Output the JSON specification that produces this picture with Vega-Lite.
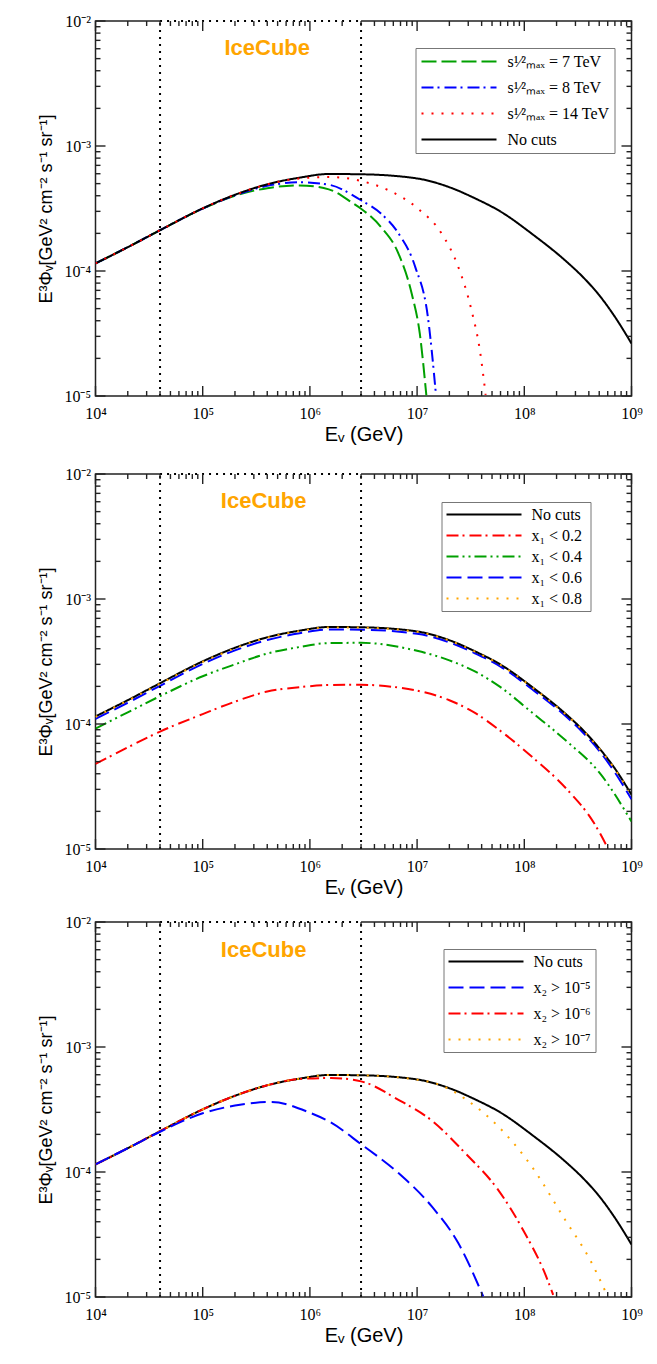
{
  "$schema": "https://vega.github.io/schema/vega-lite/v6.json",
  "padding": {"left": 36.5, "top": 12, "right": 5, "bottom": 5},
  "spacing": 20,
  "config": {
    "view": {"stroke": "#222", "strokeWidth": 1.5},
    "axis": {"grid": false, "domain": false, "ticks": false, "labelFlush": false, "labelFont": "Liberation Serif", "labelFontSize": 16, "labelColor": "black", "titleFont": "Liberation Sans", "titleFontWeight": "normal", "titleColor": "black"}
  },
  "datasets": {
    "p1": [
      {"E": 10000, "F": 0.000115, "s": "g"}, {"E": 20000, "F": 0.000155, "s": "g"}, {"E": 40000, "F": 0.000212, "s": "g"}, {"E": 100000, "F": 0.000315, "s": "g"}, {"E": 200000, "F": 0.0004, "s": "g"}, {"E": 400000, "F": 0.00046, "s": "g"}, {"E": 800000, "F": 0.000484, "s": "g"}, {"E": 1500000, "F": 0.00045, "s": "g"}, {"E": 2500000, "F": 0.00035, "s": "g"}, {"E": 3000000, "F": 0.000315, "s": "g"}, {"E": 4600000, "F": 0.000225, "s": "g"}, {"E": 6700000, "F": 0.000138, "s": "g"}, {"E": 8900000, "F": 0.000066, "s": "g"}, {"E": 10600000, "F": 0.0000315, "s": "g"}, {"E": 12200000, "F": 0.0000101, "s": "g"},
      {"E": 10000, "F": 0.000115, "s": "b"}, {"E": 20000, "F": 0.000155, "s": "b"}, {"E": 40000, "F": 0.000212, "s": "b"}, {"E": 100000, "F": 0.000316, "s": "b"}, {"E": 200000, "F": 0.000403, "s": "b"}, {"E": 400000, "F": 0.00048, "s": "b"}, {"E": 800000, "F": 0.000513, "s": "b"}, {"E": 1500000, "F": 0.00049, "s": "b"}, {"E": 3000000, "F": 0.000368, "s": "b"}, {"E": 4600000, "F": 0.000288, "s": "b"}, {"E": 6700000, "F": 0.0002, "s": "b"}, {"E": 9600000, "F": 0.000108, "s": "b"}, {"E": 12600000, "F": 0.000043, "s": "b"}, {"E": 15000000, "F": 0.0000102, "s": "b"},
      {"E": 10000, "F": 0.000115, "s": "k"}, {"E": 20000, "F": 0.000155, "s": "k"}, {"E": 40000, "F": 0.000212, "s": "k"}, {"E": 100000, "F": 0.000317, "s": "k"}, {"E": 200000, "F": 0.000407, "s": "k"}, {"E": 400000, "F": 0.000494, "s": "k"}, {"E": 800000, "F": 0.000558, "s": "k"}, {"E": 1500000, "F": 0.000597, "s": "k"}, {"E": 3000000, "F": 0.000594, "s": "k"}, {"E": 10000000, "F": 0.00055, "s": "k"}, {"E": 20000000, "F": 0.000468, "s": "k"}, {"E": 35000000, "F": 0.00038, "s": "k"}, {"E": 60000000, "F": 0.000299, "s": "k"}, {"E": 120000000, "F": 0.000196, "s": "k"}, {"E": 250000000, "F": 0.000118, "s": "k"}, {"E": 350000000, "F": 0.00009, "s": "k"}, {"E": 500000000, "F": 0.000064, "s": "k"}, {"E": 700000000, "F": 0.000043, "s": "k"}, {"E": 1000000000, "F": 0.0000263, "s": "k"},
      {"E": 10000, "F": 0.000115, "s": "r"}, {"E": 20000, "F": 0.000155, "s": "r"}, {"E": 40000, "F": 0.000212, "s": "r"}, {"E": 100000, "F": 0.000317, "s": "r"}, {"E": 200000, "F": 0.000407, "s": "r"}, {"E": 400000, "F": 0.000493, "s": "r"}, {"E": 800000, "F": 0.00055, "s": "r"}, {"E": 1500000, "F": 0.000565, "s": "r"}, {"E": 3000000, "F": 0.000525, "s": "r"}, {"E": 5400000, "F": 0.000443, "s": "r"}, {"E": 10200000, "F": 0.000315, "s": "r"}, {"E": 16900000, "F": 0.0002, "s": "r"}, {"E": 24200000, "F": 0.000108, "s": "r"}, {"E": 32200000, "F": 0.0000485, "s": "r"}, {"E": 38500000, "F": 0.0000232, "s": "r"}, {"E": 43600000, "F": 0.0000102, "s": "r"}
    ],
    "p2": [
      {"E": 10000, "F": 0.000048, "s": "r"}, {"E": 20000, "F": 0.000065, "s": "r"}, {"E": 40000, "F": 0.000087, "s": "r"}, {"E": 100000, "F": 0.00012, "s": "r"}, {"E": 200000, "F": 0.000151, "s": "r"}, {"E": 400000, "F": 0.000182, "s": "r"}, {"E": 800000, "F": 0.000197, "s": "r"}, {"E": 1500000, "F": 0.000205, "s": "r"}, {"E": 3000000, "F": 0.000206, "s": "r"}, {"E": 6000000, "F": 0.000198, "s": "r"}, {"E": 10000000, "F": 0.000185, "s": "r"}, {"E": 20000000, "F": 0.000155, "s": "r"}, {"E": 35000000, "F": 0.000122, "s": "r"}, {"E": 60000000, "F": 0.000088, "s": "r"}, {"E": 120000000, "F": 0.000054, "s": "r"}, {"E": 250000000, "F": 0.00003, "s": "r"}, {"E": 450000000, "F": 0.000016, "s": "r"}, {"E": 600000000, "F": 0.0000102, "s": "r"},
      {"E": 10000, "F": 0.000092, "s": "g"}, {"E": 20000, "F": 0.000124, "s": "g"}, {"E": 40000, "F": 0.000167, "s": "g"}, {"E": 100000, "F": 0.000241, "s": "g"}, {"E": 200000, "F": 0.0003, "s": "g"}, {"E": 400000, "F": 0.000366, "s": "g"}, {"E": 800000, "F": 0.000413, "s": "g"}, {"E": 1500000, "F": 0.000444, "s": "g"}, {"E": 3000000, "F": 0.000446, "s": "g"}, {"E": 10000000, "F": 0.000385, "s": "g"}, {"E": 20000000, "F": 0.000323, "s": "g"}, {"E": 35000000, "F": 0.000262, "s": "g"}, {"E": 60000000, "F": 0.000197, "s": "g"}, {"E": 120000000, "F": 0.000122, "s": "g"}, {"E": 250000000, "F": 0.0000725, "s": "g"}, {"E": 500000000, "F": 0.000041, "s": "g"}, {"E": 1000000000, "F": 0.0000166, "s": "g"},
      {"E": 10000, "F": 0.00011, "s": "b"}, {"E": 20000, "F": 0.000148, "s": "b"}, {"E": 40000, "F": 0.000202, "s": "b"}, {"E": 100000, "F": 0.000302, "s": "b"}, {"E": 200000, "F": 0.000388, "s": "b"}, {"E": 400000, "F": 0.00047, "s": "b"}, {"E": 800000, "F": 0.000532, "s": "b"}, {"E": 1500000, "F": 0.00057, "s": "b"}, {"E": 3000000, "F": 0.000568, "s": "b"}, {"E": 10000000, "F": 0.000527, "s": "b"}, {"E": 20000000, "F": 0.00045, "s": "b"}, {"E": 35000000, "F": 0.000366, "s": "b"}, {"E": 60000000, "F": 0.000288, "s": "b"}, {"E": 120000000, "F": 0.000188, "s": "b"}, {"E": 250000000, "F": 0.000113, "s": "b"}, {"E": 350000000, "F": 0.000086, "s": "b"}, {"E": 500000000, "F": 0.000061, "s": "b"}, {"E": 700000000, "F": 0.000041, "s": "b"}, {"E": 1000000000, "F": 0.000025, "s": "b"},
      {"E": 10000, "F": 0.000115, "s": "k"}, {"E": 20000, "F": 0.000155, "s": "k"}, {"E": 40000, "F": 0.000212, "s": "k"}, {"E": 100000, "F": 0.000317, "s": "k"}, {"E": 200000, "F": 0.000407, "s": "k"}, {"E": 400000, "F": 0.000494, "s": "k"}, {"E": 800000, "F": 0.000558, "s": "k"}, {"E": 1500000, "F": 0.000597, "s": "k"}, {"E": 3000000, "F": 0.000594, "s": "k"}, {"E": 10000000, "F": 0.00055, "s": "k"}, {"E": 20000000, "F": 0.000468, "s": "k"}, {"E": 35000000, "F": 0.00038, "s": "k"}, {"E": 60000000, "F": 0.000299, "s": "k"}, {"E": 120000000, "F": 0.000196, "s": "k"}, {"E": 250000000, "F": 0.000118, "s": "k"}, {"E": 350000000, "F": 0.00009, "s": "k"}, {"E": 500000000, "F": 0.000064, "s": "k"}, {"E": 700000000, "F": 0.000044, "s": "k"}, {"E": 1000000000, "F": 0.0000272, "s": "k"},
      {"E": 10000, "F": 0.000114, "s": "o"}, {"E": 20000, "F": 0.000154, "s": "o"}, {"E": 40000, "F": 0.00021, "s": "o"}, {"E": 100000, "F": 0.000314, "s": "o"}, {"E": 200000, "F": 0.000403, "s": "o"}, {"E": 400000, "F": 0.00049, "s": "o"}, {"E": 800000, "F": 0.000553, "s": "o"}, {"E": 1500000, "F": 0.000592, "s": "o"}, {"E": 3000000, "F": 0.00059, "s": "o"}, {"E": 10000000, "F": 0.000546, "s": "o"}, {"E": 20000000, "F": 0.000465, "s": "o"}, {"E": 35000000, "F": 0.000378, "s": "o"}, {"E": 60000000, "F": 0.000297, "s": "o"}, {"E": 120000000, "F": 0.000195, "s": "o"}, {"E": 250000000, "F": 0.000117, "s": "o"}, {"E": 350000000, "F": 0.0000895, "s": "o"}, {"E": 500000000, "F": 0.0000635, "s": "o"}, {"E": 700000000, "F": 0.0000435, "s": "o"}, {"E": 1000000000, "F": 0.000027, "s": "o"}
    ],
    "p3": [
      {"E": 10000, "F": 0.000115, "s": "k"}, {"E": 20000, "F": 0.000155, "s": "k"}, {"E": 40000, "F": 0.000212, "s": "k"}, {"E": 100000, "F": 0.000317, "s": "k"}, {"E": 200000, "F": 0.000407, "s": "k"}, {"E": 400000, "F": 0.000494, "s": "k"}, {"E": 800000, "F": 0.000558, "s": "k"}, {"E": 1500000, "F": 0.000597, "s": "k"}, {"E": 3000000, "F": 0.000594, "s": "k"}, {"E": 10000000, "F": 0.00055, "s": "k"}, {"E": 20000000, "F": 0.000468, "s": "k"}, {"E": 35000000, "F": 0.00038, "s": "k"}, {"E": 60000000, "F": 0.000299, "s": "k"}, {"E": 120000000, "F": 0.000196, "s": "k"}, {"E": 250000000, "F": 0.000118, "s": "k"}, {"E": 350000000, "F": 0.00009, "s": "k"}, {"E": 500000000, "F": 0.000064, "s": "k"}, {"E": 700000000, "F": 0.000043, "s": "k"}, {"E": 1000000000, "F": 0.0000263, "s": "k"},
      {"E": 10000, "F": 0.000115, "s": "r"}, {"E": 20000, "F": 0.000155, "s": "r"}, {"E": 40000, "F": 0.000212, "s": "r"}, {"E": 100000, "F": 0.000317, "s": "r"}, {"E": 200000, "F": 0.000407, "s": "r"}, {"E": 400000, "F": 0.000494, "s": "r"}, {"E": 800000, "F": 0.000555, "s": "r"}, {"E": 1580000, "F": 0.000565, "s": "r"}, {"E": 3000000, "F": 0.000531, "s": "r"}, {"E": 6700000, "F": 0.000378, "s": "r"}, {"E": 13700000, "F": 0.000258, "s": "r"}, {"E": 28000000, "F": 0.000142, "s": "r"}, {"E": 57000000, "F": 0.000072, "s": "r"}, {"E": 101000000, "F": 0.0000325, "s": "r"}, {"E": 155000000, "F": 0.0000156, "s": "r"}, {"E": 186000000, "F": 0.0000104, "s": "r"},
      {"E": 10000, "F": 0.000115, "s": "o"}, {"E": 20000, "F": 0.000155, "s": "o"}, {"E": 40000, "F": 0.000212, "s": "o"}, {"E": 100000, "F": 0.000317, "s": "o"}, {"E": 200000, "F": 0.000407, "s": "o"}, {"E": 400000, "F": 0.000494, "s": "o"}, {"E": 800000, "F": 0.000558, "s": "o"}, {"E": 1500000, "F": 0.000597, "s": "o"}, {"E": 3000000, "F": 0.000594, "s": "o"}, {"E": 10000000, "F": 0.000548, "s": "o"}, {"E": 15000000, "F": 0.00051, "s": "o"}, {"E": 20000000, "F": 0.00046, "s": "o"}, {"E": 28000000, "F": 0.000385, "s": "o"}, {"E": 57000000, "F": 0.000232, "s": "o"}, {"E": 117000000, "F": 0.000111, "s": "o"}, {"E": 240000000, "F": 0.0000415, "s": "o"}, {"E": 410000000, "F": 0.0000199, "s": "o"}, {"E": 590000000, "F": 0.0000104, "s": "o"},
      {"E": 10000, "F": 0.000115, "s": "b"}, {"E": 20000, "F": 0.000155, "s": "b"}, {"E": 40000, "F": 0.00021, "s": "b"}, {"E": 100000, "F": 0.000295, "s": "b"}, {"E": 200000, "F": 0.00034, "s": "b"}, {"E": 440000, "F": 0.000363, "s": "b"}, {"E": 1000000, "F": 0.000298, "s": "b"}, {"E": 1580000, "F": 0.000248, "s": "b"}, {"E": 3000000, "F": 0.000167, "s": "b"}, {"E": 6700000, "F": 0.000098, "s": "b"}, {"E": 13700000, "F": 0.000053, "s": "b"}, {"E": 24200000, "F": 0.000027, "s": "b"}, {"E": 41400000, "F": 0.0000101, "s": "b"}
    ],
    "marks": [{"E": 40000}, {"E": 3000000}],
    "xmaj": [{"E": 10000}, {"E": 100000}, {"E": 1000000}, {"E": 10000000}, {"E": 100000000}, {"E": 1000000000}],
    "xmin": [{"E": 20000}, {"E": 30000}, {"E": 40000}, {"E": 50000}, {"E": 60000}, {"E": 70000}, {"E": 80000}, {"E": 90000}, {"E": 200000}, {"E": 300000}, {"E": 400000}, {"E": 500000}, {"E": 600000}, {"E": 700000}, {"E": 800000}, {"E": 900000}, {"E": 2000000}, {"E": 3000000}, {"E": 4000000}, {"E": 5000000}, {"E": 6000000}, {"E": 7000000}, {"E": 8000000}, {"E": 9000000}, {"E": 20000000}, {"E": 30000000}, {"E": 40000000}, {"E": 50000000}, {"E": 60000000}, {"E": 70000000}, {"E": 80000000}, {"E": 90000000}, {"E": 200000000}, {"E": 300000000}, {"E": 400000000}, {"E": 500000000}, {"E": 600000000}, {"E": 700000000}, {"E": 800000000}, {"E": 900000000}],
    "ymaj": [{"F": 0.00001}, {"F": 0.0001}, {"F": 0.001}, {"F": 0.01}],
    "ymin": [{"F": 0.00002}, {"F": 0.00003}, {"F": 0.00004}, {"F": 0.00005}, {"F": 0.00006}, {"F": 0.00007}, {"F": 0.00008}, {"F": 0.00009}, {"F": 0.0002}, {"F": 0.0003}, {"F": 0.0004}, {"F": 0.0005}, {"F": 0.0006}, {"F": 0.0007}, {"F": 0.0008}, {"F": 0.0009}, {"F": 0.002}, {"F": 0.003}, {"F": 0.004}, {"F": 0.005}, {"F": 0.006}, {"F": 0.007}, {"F": 0.008}, {"F": 0.009}]
  },
  "resolve": {"scale": {"color": "independent", "strokeDash": "independent"}, "legend": {"color": "independent", "strokeDash": "independent"}},
  "vconcat": [
    {
      "width": 536, "height": 375,
      "resolve": {"axis": {"x": "independent", "y": "independent"}},
      "layer": [
        {
          "data": {"name": "p1"},
          "mark": {"type": "line", "strokeWidth": 2, "clip": true, "interpolate": "monotone"},
          "encoding": {
            "x": {"field": "E", "type": "quantitative", "scale": {"type": "log", "domain": [10000, 1000000000]},
              "axis": {"orient": "bottom", "values": [10000, 100000, 1000000, 10000000, 100000000, 1000000000], "labelPadding": 9, "labelExpr": "'10' + ['⁰','¹','²','³','⁴','⁵','⁶','⁷','⁸','⁹'][round(log(datum.value)/LN10)]", "title": "Eᵥ (GeV)", "titleFontSize": 20, "titlePadding": 3}},
            "y": {"field": "F", "type": "quantitative", "scale": {"type": "log", "domain": [0.00001, 0.01]},
              "axis": {"orient": "left", "values": [0.00001, 0.0001, 0.001, 0.01], "labelPadding": 5, "labelExpr": "'10⁻' + ['⁰','¹','²','³','⁴','⁵','⁶'][round(-log(datum.value)/LN10)]", "title": "E³Φᵥ[GeV² cm⁻² s⁻¹ sr⁻¹]", "titleFontSize": 18, "titlePadding": 8}},
            "color": {"field": "s", "type": "nominal", "sort": null,
              "scale": {"domain": ["g", "b", "r", "k"], "range": ["#00a000", "#0000ff", "#ff0000", "#000000"]},
              "legend": {"orient": "none", "legendX": 320, "legendY": 27, "title": null, "strokeColor": "#777", "fillColor": "white", "padding": 5, "symbolType": "M-1,0H9", "symbolSize": 225, "symbolStrokeWidth": 2, "labelFont": "Liberation Serif", "labelFontSize": 16, "labelColor": "black", "rowPadding": 9, "labelOffset": 70,
                "labelExpr": "datum.value == 'g' ? 's¹⁄²ₘₐₓ = 7 TeV' : datum.value == 'b' ? 's¹⁄²ₘₐₓ = 8 TeV' : datum.value == 'r' ? 's¹⁄²ₘₐₓ = 14 TeV' : 'No cuts'"}},
            "strokeDash": {"field": "s", "type": "nominal", "sort": null,
              "scale": {"domain": ["g", "b", "r", "k"], "range": [[15, 5], [12, 4, 2, 5], [2, 8], [1, 0]]},
              "legend": {"orient": "none", "legendX": 320, "legendY": 27, "title": null, "strokeColor": "#777", "fillColor": "white", "padding": 5, "symbolType": "M-1,0H9", "symbolSize": 225, "symbolStrokeWidth": 2, "labelFont": "Liberation Serif", "labelFontSize": 16, "labelColor": "black", "rowPadding": 9, "labelOffset": 70,
                "labelExpr": "datum.value == 'g' ? 's¹⁄²ₘₐₓ = 7 TeV' : datum.value == 'b' ? 's¹⁄²ₘₐₓ = 8 TeV' : datum.value == 'r' ? 's¹⁄²ₘₐₓ = 14 TeV' : 'No cuts'"}}
          }
        },
        {"data": {"name": "marks"}, "mark": {"type": "rule", "color": "black", "strokeWidth": 2, "strokeDash": [2, 5]},
          "encoding": {"x": {"field": "E", "type": "quantitative", "axis": null}, "y": {"datum": 0.00001, "type": "quantitative", "axis": null}, "y2": {"datum": 0.01}}},
        {"data": {"values": [{}]}, "mark": {"type": "rule", "color": "white", "strokeWidth": 2.5},
          "encoding": {"x": {"datum": 40000, "type": "quantitative", "axis": null}, "x2": {"datum": 3000000}, "y": {"datum": 0.01, "type": "quantitative", "axis": null}}},
        {"data": {"values": [{}]}, "mark": {"type": "rule", "color": "black", "strokeWidth": 2, "strokeDash": [2, 5]},
          "encoding": {"x": {"datum": 40000, "type": "quantitative", "axis": null}, "x2": {"datum": 3000000}, "y": {"datum": 0.01, "type": "quantitative", "axis": null}}},
        {"data": {"name": "xmaj"}, "mark": {"type": "rule", "color": "#222", "strokeWidth": 1.4},
          "encoding": {"x": {"field": "E", "type": "quantitative", "axis": null}, "y": {"datum": 0.00001, "type": "quantitative", "axis": null}, "y2": {"datum": 0.000012023}}},
        {"data": {"name": "xmaj"}, "mark": {"type": "rule", "color": "#222", "strokeWidth": 1.4},
          "encoding": {"x": {"field": "E", "type": "quantitative", "axis": null}, "y": {"datum": 0.01, "type": "quantitative", "axis": null}, "y2": {"datum": 0.0083176}}},
        {"data": {"name": "xmin"}, "mark": {"type": "rule", "color": "#222", "strokeWidth": 1.4},
          "encoding": {"x": {"field": "E", "type": "quantitative", "axis": null}, "y": {"datum": 0.00001, "type": "quantitative", "axis": null}, "y2": {"datum": 0.000010965}}},
        {"data": {"name": "xmin"}, "mark": {"type": "rule", "color": "#222", "strokeWidth": 1.4},
          "encoding": {"x": {"field": "E", "type": "quantitative", "axis": null}, "y": {"datum": 0.01, "type": "quantitative", "axis": null}, "y2": {"datum": 0.0091201}}},
        {"data": {"name": "ymaj"}, "mark": {"type": "rule", "color": "#222", "strokeWidth": 1.4},
          "encoding": {"y": {"field": "F", "type": "quantitative", "axis": null}, "x": {"datum": 10000, "type": "quantitative", "axis": null}, "x2": {"datum": 12399}}},
        {"data": {"name": "ymaj"}, "mark": {"type": "rule", "color": "#222", "strokeWidth": 1.4},
          "encoding": {"y": {"field": "F", "type": "quantitative", "axis": null}, "x": {"datum": 1000000000, "type": "quantitative", "axis": null}, "x2": {"datum": 806500000}}},
        {"data": {"name": "ymin"}, "mark": {"type": "rule", "color": "#222", "strokeWidth": 1.4},
          "encoding": {"y": {"field": "F", "type": "quantitative", "axis": null}, "x": {"datum": 10000, "type": "quantitative", "axis": null}, "x2": {"datum": 11133}}},
        {"data": {"name": "ymin"}, "mark": {"type": "rule", "color": "#222", "strokeWidth": 1.4},
          "encoding": {"y": {"field": "F", "type": "quantitative", "axis": null}, "x": {"datum": 1000000000, "type": "quantitative", "axis": null}, "x2": {"datum": 898200000}}},
        {"data": {"values": [{}]}, "mark": {"type": "text", "text": "IceCube", "font": "Liberation Sans", "fontWeight": "bold", "fontSize": 22, "color": "#ffa500", "align": "center", "baseline": "alphabetic"},
          "encoding": {"x": {"datum": 400000, "type": "quantitative", "axis": null}, "y": {"datum": 0.00539, "type": "quantitative", "axis": null}}}
      ]
    },
    {
      "spacing": 15,
      "resolve": {"scale": {"color": "independent", "strokeDash": "independent"}, "legend": {"color": "independent", "strokeDash": "independent"}},
      "vconcat": [
        {
          "width": 536, "height": 375,
          "resolve": {"axis": {"x": "independent", "y": "independent"}},
          "layer": [
            {
              "data": {"name": "p2"},
              "mark": {"type": "line", "strokeWidth": 2, "clip": true, "interpolate": "monotone"},
              "encoding": {
                "x": {"field": "E", "type": "quantitative", "scale": {"type": "log", "domain": [10000, 1000000000]},
                  "axis": {"orient": "bottom", "values": [10000, 100000, 1000000, 10000000, 100000000, 1000000000], "labelPadding": 9, "labelExpr": "'10' + ['⁰','¹','²','³','⁴','⁵','⁶','⁷','⁸','⁹'][round(log(datum.value)/LN10)]", "title": "Eᵥ (GeV)", "titleFontSize": 20, "titlePadding": 3}},
                "y": {"field": "F", "type": "quantitative", "scale": {"type": "log", "domain": [0.00001, 0.01]},
                  "axis": {"orient": "left", "values": [0.00001, 0.0001, 0.001, 0.01], "labelPadding": 5, "labelExpr": "'10⁻' + ['⁰','¹','²','³','⁴','⁵','⁶'][round(-log(datum.value)/LN10)]", "title": "E³Φᵥ[GeV² cm⁻² s⁻¹ sr⁻¹]", "titleFontSize": 18, "titlePadding": 8}},
                "color": {"field": "s", "type": "nominal", "sort": null,
                  "scale": {"domain": ["k", "r", "g", "b", "o"], "range": ["#000000", "#ff0000", "#00a000", "#0000ff", "#ffa500"]},
                  "legend": {"orient": "none", "legendX": 346, "legendY": 28, "title": null, "strokeColor": "#777", "fillColor": "white", "padding": 4, "symbolType": "M-1,0H9", "symbolSize": 225, "symbolStrokeWidth": 2, "labelFont": "Liberation Serif", "labelFontSize": 16, "labelColor": "black", "rowPadding": 4, "labelOffset": 69,
                    "labelExpr": "datum.value == 'k' ? 'No cuts' : datum.value == 'r' ? 'x₁ < 0.2' : datum.value == 'g' ? 'x₁  < 0.4' : datum.value == 'b' ? 'x₁ < 0.6' : 'x₁ < 0.8'"}},
                "strokeDash": {"field": "s", "type": "nominal", "sort": null,
                  "scale": {"domain": ["k", "r", "g", "b", "o"], "range": [[1, 0], [12, 4, 2, 5], [12, 4, 2, 4, 2, 4], [15, 6], [2, 8]]},
                  "legend": {"orient": "none", "legendX": 346, "legendY": 28, "title": null, "strokeColor": "#777", "fillColor": "white", "padding": 4, "symbolType": "M-1,0H9", "symbolSize": 225, "symbolStrokeWidth": 2, "labelFont": "Liberation Serif", "labelFontSize": 16, "labelColor": "black", "rowPadding": 4, "labelOffset": 69,
                    "labelExpr": "datum.value == 'k' ? 'No cuts' : datum.value == 'r' ? 'x₁ < 0.2' : datum.value == 'g' ? 'x₁  < 0.4' : datum.value == 'b' ? 'x₁ < 0.6' : 'x₁ < 0.8'"}}
              }
            },
            {"data": {"name": "marks"}, "mark": {"type": "rule", "color": "black", "strokeWidth": 2, "strokeDash": [2, 5]},
              "encoding": {"x": {"field": "E", "type": "quantitative", "axis": null}, "y": {"datum": 0.00001, "type": "quantitative", "axis": null}, "y2": {"datum": 0.01}}},
            {"data": {"values": [{}]}, "mark": {"type": "rule", "color": "white", "strokeWidth": 2.5},
              "encoding": {"x": {"datum": 40000, "type": "quantitative", "axis": null}, "x2": {"datum": 3000000}, "y": {"datum": 0.01, "type": "quantitative", "axis": null}}},
            {"data": {"values": [{}]}, "mark": {"type": "rule", "color": "black", "strokeWidth": 2, "strokeDash": [2, 5]},
              "encoding": {"x": {"datum": 40000, "type": "quantitative", "axis": null}, "x2": {"datum": 3000000}, "y": {"datum": 0.01, "type": "quantitative", "axis": null}}},
            {"data": {"name": "xmaj"}, "mark": {"type": "rule", "color": "#222", "strokeWidth": 1.4},
              "encoding": {"x": {"field": "E", "type": "quantitative", "axis": null}, "y": {"datum": 0.00001, "type": "quantitative", "axis": null}, "y2": {"datum": 0.000012023}}},
            {"data": {"name": "xmaj"}, "mark": {"type": "rule", "color": "#222", "strokeWidth": 1.4},
              "encoding": {"x": {"field": "E", "type": "quantitative", "axis": null}, "y": {"datum": 0.01, "type": "quantitative", "axis": null}, "y2": {"datum": 0.0083176}}},
            {"data": {"name": "xmin"}, "mark": {"type": "rule", "color": "#222", "strokeWidth": 1.4},
              "encoding": {"x": {"field": "E", "type": "quantitative", "axis": null}, "y": {"datum": 0.00001, "type": "quantitative", "axis": null}, "y2": {"datum": 0.000010965}}},
            {"data": {"name": "xmin"}, "mark": {"type": "rule", "color": "#222", "strokeWidth": 1.4},
              "encoding": {"x": {"field": "E", "type": "quantitative", "axis": null}, "y": {"datum": 0.01, "type": "quantitative", "axis": null}, "y2": {"datum": 0.0091201}}},
            {"data": {"name": "ymaj"}, "mark": {"type": "rule", "color": "#222", "strokeWidth": 1.4},
              "encoding": {"y": {"field": "F", "type": "quantitative", "axis": null}, "x": {"datum": 10000, "type": "quantitative", "axis": null}, "x2": {"datum": 12399}}},
            {"data": {"name": "ymaj"}, "mark": {"type": "rule", "color": "#222", "strokeWidth": 1.4},
              "encoding": {"y": {"field": "F", "type": "quantitative", "axis": null}, "x": {"datum": 1000000000, "type": "quantitative", "axis": null}, "x2": {"datum": 806500000}}},
            {"data": {"name": "ymin"}, "mark": {"type": "rule", "color": "#222", "strokeWidth": 1.4},
              "encoding": {"y": {"field": "F", "type": "quantitative", "axis": null}, "x": {"datum": 10000, "type": "quantitative", "axis": null}, "x2": {"datum": 11133}}},
            {"data": {"name": "ymin"}, "mark": {"type": "rule", "color": "#222", "strokeWidth": 1.4},
              "encoding": {"y": {"field": "F", "type": "quantitative", "axis": null}, "x": {"datum": 1000000000, "type": "quantitative", "axis": null}, "x2": {"datum": 898200000}}},
            {"data": {"values": [{}]}, "mark": {"type": "text", "text": "IceCube", "font": "Liberation Sans", "fontWeight": "bold", "fontSize": 22, "color": "#ffa500", "align": "center", "baseline": "alphabetic"},
              "encoding": {"x": {"datum": 370000, "type": "quantitative", "axis": null}, "y": {"datum": 0.0053, "type": "quantitative", "axis": null}}}
          ]
        },
        {
          "width": 536, "height": 375,
          "resolve": {"axis": {"x": "independent", "y": "independent"}},
          "layer": [
            {
              "data": {"name": "p3"},
              "mark": {"type": "line", "strokeWidth": 2, "clip": true, "interpolate": "monotone"},
              "encoding": {
                "x": {"field": "E", "type": "quantitative", "scale": {"type": "log", "domain": [10000, 1000000000]},
                  "axis": {"orient": "bottom", "values": [10000, 100000, 1000000, 10000000, 100000000, 1000000000], "labelPadding": 9, "labelExpr": "'10' + ['⁰','¹','²','³','⁴','⁵','⁶','⁷','⁸','⁹'][round(log(datum.value)/LN10)]", "title": "Eᵥ (GeV)", "titleFontSize": 20, "titlePadding": 3}},
                "y": {"field": "F", "type": "quantitative", "scale": {"type": "log", "domain": [0.00001, 0.01]},
                  "axis": {"orient": "left", "values": [0.00001, 0.0001, 0.001, 0.01], "labelPadding": 5, "labelExpr": "'10⁻' + ['⁰','¹','²','³','⁴','⁵','⁶'][round(-log(datum.value)/LN10)]", "title": "E³Φᵥ[GeV² cm⁻² s⁻¹ sr⁻¹]", "titleFontSize": 18, "titlePadding": 8}},
                "color": {"field": "s", "type": "nominal", "sort": null,
                  "scale": {"domain": ["k", "b", "r", "o"], "range": ["#000000", "#0000ff", "#ff0000", "#ffa500"]},
                  "legend": {"orient": "none", "legendX": 348, "legendY": 27, "title": null, "strokeColor": "#777", "fillColor": "white", "padding": 4, "symbolType": "M-1,0H9", "symbolSize": 225, "symbolStrokeWidth": 2, "labelFont": "Liberation Serif", "labelFontSize": 16, "labelColor": "black", "rowPadding": 9, "labelOffset": 69,
                    "labelExpr": "datum.value == 'k' ? 'No cuts' : datum.value == 'b' ? 'x₂ > 10⁻⁵' : datum.value == 'r' ? 'x₂ > 10⁻⁶' : 'x₂ > 10⁻⁷'"}},
                "strokeDash": {"field": "s", "type": "nominal", "sort": null,
                  "scale": {"domain": ["k", "b", "r", "o"], "range": [[1, 0], [15, 6], [12, 4, 2, 5], [2, 8]]},
                  "legend": {"orient": "none", "legendX": 348, "legendY": 27, "title": null, "strokeColor": "#777", "fillColor": "white", "padding": 4, "symbolType": "M-1,0H9", "symbolSize": 225, "symbolStrokeWidth": 2, "labelFont": "Liberation Serif", "labelFontSize": 16, "labelColor": "black", "rowPadding": 9, "labelOffset": 69,
                    "labelExpr": "datum.value == 'k' ? 'No cuts' : datum.value == 'b' ? 'x₂ > 10⁻⁵' : datum.value == 'r' ? 'x₂ > 10⁻⁶' : 'x₂ > 10⁻⁷'"}}
              }
            },
            {"data": {"name": "marks"}, "mark": {"type": "rule", "color": "black", "strokeWidth": 2, "strokeDash": [2, 5]},
              "encoding": {"x": {"field": "E", "type": "quantitative", "axis": null}, "y": {"datum": 0.00001, "type": "quantitative", "axis": null}, "y2": {"datum": 0.01}}},
            {"data": {"values": [{}]}, "mark": {"type": "rule", "color": "white", "strokeWidth": 2.5},
              "encoding": {"x": {"datum": 40000, "type": "quantitative", "axis": null}, "x2": {"datum": 3000000}, "y": {"datum": 0.01, "type": "quantitative", "axis": null}}},
            {"data": {"values": [{}]}, "mark": {"type": "rule", "color": "black", "strokeWidth": 2, "strokeDash": [2, 5]},
              "encoding": {"x": {"datum": 40000, "type": "quantitative", "axis": null}, "x2": {"datum": 3000000}, "y": {"datum": 0.01, "type": "quantitative", "axis": null}}},
            {"data": {"name": "xmaj"}, "mark": {"type": "rule", "color": "#222", "strokeWidth": 1.4},
              "encoding": {"x": {"field": "E", "type": "quantitative", "axis": null}, "y": {"datum": 0.00001, "type": "quantitative", "axis": null}, "y2": {"datum": 0.000012023}}},
            {"data": {"name": "xmaj"}, "mark": {"type": "rule", "color": "#222", "strokeWidth": 1.4},
              "encoding": {"x": {"field": "E", "type": "quantitative", "axis": null}, "y": {"datum": 0.01, "type": "quantitative", "axis": null}, "y2": {"datum": 0.0083176}}},
            {"data": {"name": "xmin"}, "mark": {"type": "rule", "color": "#222", "strokeWidth": 1.4},
              "encoding": {"x": {"field": "E", "type": "quantitative", "axis": null}, "y": {"datum": 0.00001, "type": "quantitative", "axis": null}, "y2": {"datum": 0.000010965}}},
            {"data": {"name": "xmin"}, "mark": {"type": "rule", "color": "#222", "strokeWidth": 1.4},
              "encoding": {"x": {"field": "E", "type": "quantitative", "axis": null}, "y": {"datum": 0.01, "type": "quantitative", "axis": null}, "y2": {"datum": 0.0091201}}},
            {"data": {"name": "ymaj"}, "mark": {"type": "rule", "color": "#222", "strokeWidth": 1.4},
              "encoding": {"y": {"field": "F", "type": "quantitative", "axis": null}, "x": {"datum": 10000, "type": "quantitative", "axis": null}, "x2": {"datum": 12399}}},
            {"data": {"name": "ymaj"}, "mark": {"type": "rule", "color": "#222", "strokeWidth": 1.4},
              "encoding": {"y": {"field": "F", "type": "quantitative", "axis": null}, "x": {"datum": 1000000000, "type": "quantitative", "axis": null}, "x2": {"datum": 806500000}}},
            {"data": {"name": "ymin"}, "mark": {"type": "rule", "color": "#222", "strokeWidth": 1.4},
              "encoding": {"y": {"field": "F", "type": "quantitative", "axis": null}, "x": {"datum": 10000, "type": "quantitative", "axis": null}, "x2": {"datum": 11133}}},
            {"data": {"name": "ymin"}, "mark": {"type": "rule", "color": "#222", "strokeWidth": 1.4},
              "encoding": {"y": {"field": "F", "type": "quantitative", "axis": null}, "x": {"datum": 1000000000, "type": "quantitative", "axis": null}, "x2": {"datum": 898200000}}},
            {"data": {"values": [{}]}, "mark": {"type": "text", "text": "IceCube", "font": "Liberation Sans", "fontWeight": "bold", "fontSize": 22, "color": "#ffa500", "align": "center", "baseline": "alphabetic"},
              "encoding": {"x": {"datum": 370000, "type": "quantitative", "axis": null}, "y": {"datum": 0.0052, "type": "quantitative", "axis": null}}}
          ]
        }
      ]
    }
  ]
}
